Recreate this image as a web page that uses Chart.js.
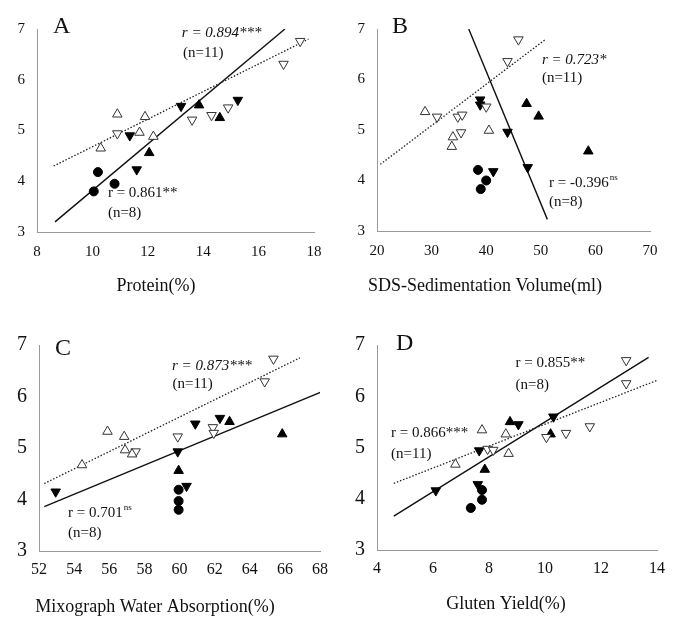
<!DOCTYPE html>
<html>
<head>
<meta charset="utf-8">
<script src="https://cdn.jsdelivr.net/npm/chart.js@4/dist/chart.umd.min.js"></script>
<style>
  body { margin: 0; background: #fff; }
  #wrap { position: relative; width: 674px; height: 621px; }
  canvas { position: absolute; }
</style>
</head>
<body>
<div id="wrap">
  <canvas id="chartA" width="337" height="300" style="left:0;top:0"></canvas>
  <canvas id="chartB" width="337" height="300" style="left:337px;top:0"></canvas>
  <canvas id="chartC" width="337" height="321" style="left:0;top:300px"></canvas>
  <canvas id="chartD" width="337" height="321" style="left:337px;top:300px"></canvas>
</div>
<script>
Chart.defaults.font.family = '"Liberation Serif", "Times New Roman", serif'
Chart.defaults.color = '#111'
Chart.defaults.animation = false

// y value is the same loaf/quality score on every panel, x changes per panel
// open = n=11 group (dotted fit), filled = n=8 group (solid fit)

// A: Protein(%)
const proteinOpenUp = [[10.3, 4.65], [10.9, 5.32], [11.7, 4.96], [11.9, 5.27], [12.2, 4.88]]
const proteinOpenDown = [[10.9, 4.94], [13.6, 5.21], [14.3, 5.3], [14.9, 5.45], [16.9, 6.31], [17.5, 6.76]]
const proteinFillUp = [[12.05, 4.56], [13.85, 5.5], [14.6, 5.25]]
const proteinFillDown = [[11.35, 4.9], [11.6, 4.23], [13.2, 5.48], [15.25, 5.6]]
const proteinDots = [[10.05, 3.8], [10.2, 4.18], [10.8, 3.95]]
const proteinFitOpen = [[8.6, 4.3], [17.8, 6.8]]
const proteinFitFilled = [[8.65, 3.2], [16.95, 7.0]]

// B: SDS-Sedimentation Volume(ml)
const sdsOpenUp = [[28.8, 5.36], [33.7, 4.67], [33.9, 4.86], [40.5, 4.99]]
const sdsOpenDown = [[31.0, 5.26], [34.8, 5.26], [35.6, 5.3], [35.4, 4.95], [40.0, 5.46], [43.9, 6.36], [45.9, 6.79]]
const sdsFillUp = [[47.4, 5.52], [49.6, 5.27], [58.7, 4.58]]
const sdsFillDown = [[38.9, 5.6], [38.9, 5.5], [41.3, 4.18], [43.9, 4.96], [47.6, 4.26]]
const sdsDots = [[38.5, 4.21], [39.0, 3.83], [40.0, 4.0]]
const sdsFitOpen = [[20.6, 4.32], [50.8, 6.79]]
const sdsFitFilled = [[36.8, 7.0], [51.2, 3.23]]

// C: Mixograph Water Absorption(%)
const mixoOpenUp = [[54.45, 4.67], [55.9, 5.32], [56.85, 5.22], [56.9, 4.96], [57.3, 4.88]]
const mixoOpenDown = [[57.5, 4.93], [59.9, 5.22], [61.9, 5.4], [61.95, 5.29], [64.85, 6.29], [65.35, 6.73]]
const mixoFillUp = [[59.95, 4.56], [62.85, 5.51], [65.85, 5.27]]
const mixoFillDown = [[52.95, 4.15], [59.9, 4.93], [60.4, 4.26], [60.9, 5.47], [62.3, 5.58]]
const mixoDots = [[59.95, 4.19], [59.95, 3.97], [59.95, 3.8]]
const mixoFitOpen = [[52.3, 4.31], [66.85, 6.75]]
const mixoFitFilled = [[52.3, 3.86], [68.15, 6.1]]

// D: Gluten Yield(%)
const glutenOpenUp = [[6.8, 4.67], [7.75, 5.34], [8.6, 5.26], [8.7, 4.88]]
const glutenOpenDown = [[7.95, 4.97], [8.15, 4.95], [10.05, 5.2], [10.75, 5.28], [11.6, 5.41], [12.9, 6.25], [12.9, 6.7]]
const glutenFillUp = [[7.85, 4.57], [8.75, 5.5], [10.2, 5.26]]
const glutenFillDown = [[6.1, 4.16], [7.65, 4.94], [7.6, 4.28], [9.05, 5.45], [10.3, 5.6]]
const glutenDots = [[7.75, 4.17], [7.75, 3.98], [7.35, 3.82]]
const glutenFitOpen = [[4.6, 4.3], [14.0, 6.31]]
const glutenFitFilled = [[4.6, 3.66], [13.7, 6.76]]

const pts = arr => arr.map(([x, y]) => ({ x, y }))

const markerStyles = [
  { pointStyle: 'triangle', rotation: 0, bg: '#fff', border: '#333', radius: 5.5 },
  { pointStyle: 'triangle', rotation: 180, bg: '#fff', border: '#333', radius: 5.5 },
  { pointStyle: 'triangle', rotation: 0, bg: '#000', border: '#000', radius: 5.5 },
  { pointStyle: 'triangle', rotation: 180, bg: '#000', border: '#000', radius: 5.5 },
  { pointStyle: 'circle', rotation: 0, bg: '#000', border: '#000', radius: 4.5 }
]

const panels = [
  {
    canvas: 'chartA', letter: 'A', title: 'Protein(%)',
    xMin: 8, xMax: 18, xStep: 2,
    series: [proteinOpenUp, proteinOpenDown, proteinFillUp, proteinFillDown, proteinDots],
    fitOpen: proteinFitOpen, fitFilled: proteinFitFilled,
    notes: [
      { x: 13.23, y: 6.92, text: 'r = 0.894***', italic: true },
      { x: 13.27, y: 6.53, text: '(n=11)' },
      { x: 10.56, y: 3.77, text: 'r = 0.861**' },
      { x: 10.56, y: 3.37, text: '(n=8)' }
    ],
    box: { left: 37, right: 314, top: 29, bottom: 232 },
    titleAt: [156, 286], letterAt: [53, 33],
    xTickSize: 15, yTickSize: 15, xPad: 11
  },
  {
    canvas: 'chartB', letter: 'B', title: 'SDS-Sedimentation Volume(ml)',
    xMin: 20, xMax: 70, xStep: 10,
    series: [sdsOpenUp, sdsOpenDown, sdsFillUp, sdsFillDown, sdsDots],
    fitOpen: sdsFitOpen, fitFilled: sdsFitFilled,
    notes: [
      { x: 50.2, y: 6.39, text: 'r = 0.723*', italic: true },
      { x: 50.2, y: 6.03, text: '(n=11)' },
      { x: 51.5, y: 3.95, text: 'r = -0.396', sup: 'ns' },
      { x: 51.5, y: 3.57, text: '(n=8)' }
    ],
    box: { left: 40, right: 313, top: 29, bottom: 231 },
    titleAt: [148, 286], letterAt: [55, 33],
    xTickSize: 15, yTickSize: 15, xPad: 11
  },
  {
    canvas: 'chartC', letter: 'C', title: 'Mixograph Water Absorption(%)',
    xMin: 52, xMax: 68, xStep: 2,
    series: [mixoOpenUp, mixoOpenDown, mixoFillUp, mixoFillDown, mixoDots],
    fitOpen: mixoFitOpen, fitFilled: mixoFitFilled,
    notes: [
      { x: 59.57, y: 6.59, text: 'r = 0.873***', italic: true },
      { x: 59.6, y: 6.24, text: '(n=11)' },
      { x: 53.65, y: 3.74, text: 'r = 0.701', sup: 'ns' },
      { x: 53.65, y: 3.35, text: '(n=8)' }
    ],
    box: { left: 39, right: 320, top: 45, bottom: 251 },
    titleAt: [155, 307], letterAt: [55, 55],
    xTickSize: 16, yTickSize: 20, xPad: 9
  },
  {
    canvas: 'chartD', letter: 'D', title: 'Gluten Yield(%)',
    xMin: 4, xMax: 14, xStep: 2,
    series: [glutenOpenUp, glutenOpenDown, glutenFillUp, glutenFillDown, glutenDots],
    fitOpen: glutenFitOpen, fitFilled: glutenFitFilled,
    notes: [
      { x: 8.95, y: 6.65, text: 'r = 0.855**' },
      { x: 8.95, y: 6.22, text: '(n=8)' },
      { x: 4.5, y: 5.29, text: 'r = 0.866***' },
      { x: 4.5, y: 4.88, text: '(n=11)' }
    ],
    box: { left: 40, right: 320, top: 45, bottom: 250 },
    titleAt: [169, 304], letterAt: [59, 50],
    xTickSize: 16, yTickSize: 20, xPad: 9
  }
]

function textPlugin (p) {
  return {
    id: 'panelText',
    afterDraw (chart) {
      const { ctx, scales: { x, y } } = chart
      ctx.save()
      ctx.fillStyle = '#111'
      ctx.textAlign = 'left'
      ctx.textBaseline = 'alphabetic'
      ctx.font = '24px "Liberation Serif"'
      ctx.fillText(p.letter, p.letterAt[0], p.letterAt[1])

      ctx.textAlign = 'center'
      ctx.textBaseline = 'middle'
      ctx.font = '18px "Liberation Serif"'
      ctx.fillText(p.title, p.titleAt[0], p.titleAt[1])

      ctx.textAlign = 'left'
      p.notes.forEach(n => {
        const px = x.getPixelForValue(n.x)
        const py = y.getPixelForValue(n.y)
        ctx.font = (n.italic ? 'italic ' : '') + '15px "Liberation Serif"'
        ctx.fillText(n.text, px, py)
        if (n.sup) {
          const w = ctx.measureText(n.text).width
          ctx.font = '9px "Liberation Serif"'
          ctx.fillText(n.sup, px + w + 1, py - 5)
        }
      })
      ctx.restore()
    }
  }
}

panels.forEach(p => {
  const canvas = document.getElementById(p.canvas)
  const W = canvas.width
  const H = canvas.height

  const markers = p.series.map((s, i) => {
    const m = markerStyles[i]
    return {
      data: pts(s),
      pointStyle: m.pointStyle,
      rotation: m.rotation,
      backgroundColor: m.bg,
      borderColor: m.border,
      borderWidth: 1,
      pointRadius: m.radius
    }
  })
  const fits = [
    { data: pts(p.fitOpen), showLine: true, borderColor: '#222', borderWidth: 1.3, borderDash: [1.5, 1.8], pointRadius: 0 },
    { data: pts(p.fitFilled), showLine: true, borderColor: '#111', borderWidth: 1.4, pointRadius: 0 }
  ]

  new Chart(canvas, {
    type: 'scatter',
    data: { datasets: markers.concat(fits) },
    options: {
      responsive: false,
      layout: { padding: { left: 0, top: p.box.top, right: W - p.box.right, bottom: 0 } },
      plugins: { legend: { display: false }, tooltip: { enabled: false } },
      scales: {
        x: {
          type: 'linear',
          min: p.xMin,
          max: p.xMax,
          afterFit: s => { s.height = H - p.box.bottom },
          grid: { display: false, drawTicks: false },
          border: { color: '#999', width: 1 },
          ticks: { stepSize: p.xStep, padding: p.xPad, font: { size: p.xTickSize }, color: '#111' }
        },
        y: {
          min: 3,
          max: 7,
          afterFit: s => { s.width = p.box.left },
          grid: { display: false, drawTicks: false },
          border: { color: '#999', width: 1 },
          ticks: { stepSize: 1, padding: 12, font: { size: p.yTickSize }, color: '#111' }
        }
      }
    },
    plugins: [textPlugin(p)]
  })
})
</script>
</body>
</html>
